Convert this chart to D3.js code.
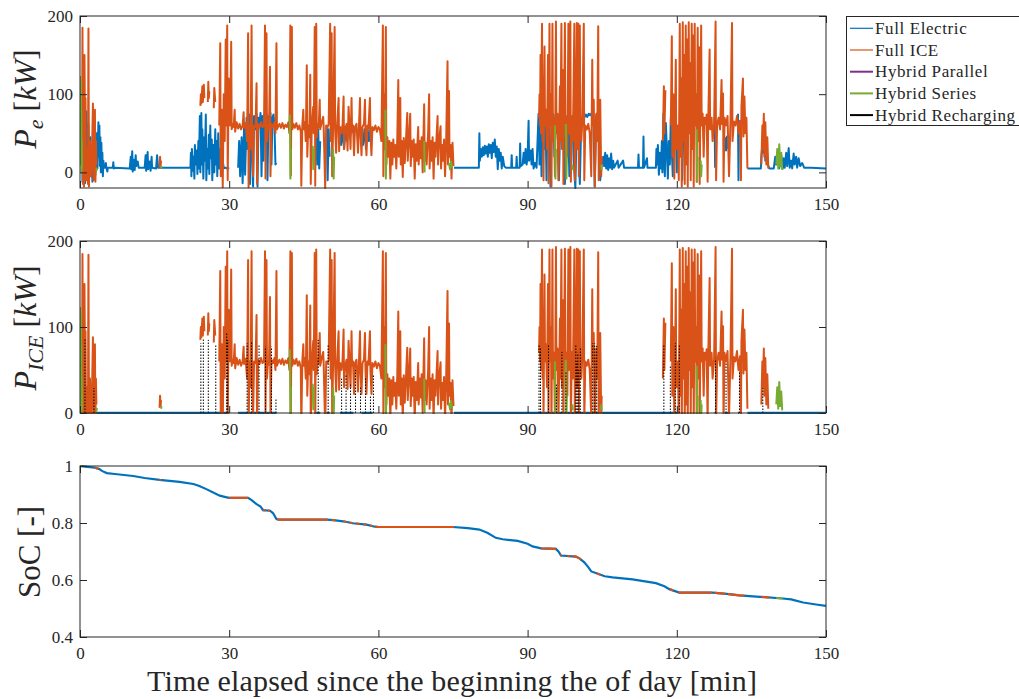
<!DOCTYPE html>
<html>
<head>
<meta charset="utf-8">
<script src="https://cdn.jsdelivr.net/npm/d3@7"></script>
<style>
  body { margin: 0; background: #fff; }
  text { font-family: "Liberation Serif", "Times New Roman", serif; fill: #262626; }
</style>
</head>
<body>
<svg id="chart" width="1019" height="699"></svg>
<script>
// ---- Time axis (minutes) ----
const timeDomain = [0, 150];
const timeTicks = [0, 30, 60, 90, 120, 150];

// ---- Panel axes ----
const peDomain = [-20, 200];
const peTicks = [0, 100, 200];
const iceDomain = [0, 200];
const iceTicks = [0, 100, 200];
const socDomain = [0.4, 1];
const socTicks = [0.4, 0.6, 0.8, 1];

// ---- Legend ----
const modeNames = ["Full Electric", "Full ICE", "Hybrid Parallel", "Hybrid Series", "Hybrid Recharging"];
const modeColors = ["#0072BD", "#D95319", "#7E2F8E", "#77AC30", "#000000"];

// ---- Electric power P_e [kW] while in Full Electric mode: runs of [t, kW] ----
const electricPe = [
  [[0.3,10],[0.4,60],[0.5,-12],[0.6,40],[0.7,75],[0.8,-5],[0.9,30],[1.0,-14],[1.1,55],[1.2,20],[1.3,78],[1.4,-10],[1.5,35],[1.6,5],[1.7,62],[1.8,-8],[1.9,20],[2.1,45],[2.2,-5],[2.3,30],[2.5,-12],[2.6,25],[2.8,10],[3.0,40],[3.1,-3],[3.3,50],[3.5,5],[3.7,64],[3.8,20],[3.9,60],[4.0,8],[4.1,45],[4.2,0],[4.3,38],[4.4,3],[4.5,25],[4.6,-5],[4.7,15],[4.8,6],[5.0,6],[5.2,12],[5.3,6],[5.5,1],[5.6,6],[6.6,6],[6.7,13],[6.8,5],[7.0,6],[10.0,5],[10.2,20],[10.3,4],[10.5,27],[10.6,1],[10.8,16],[11.0,3],[11.2,22],[11.3,8],[11.6,14],[11.8,6],[13.0,6],[13.2,22],[13.3,2],[13.6,26],[13.7,4],[14.0,14],[14.2,2],[14.4,20],[14.5,6],[15.3,5],[15.5,22],[15.7,6],[22.0,6],
   [22.2,6],[22.3,25],[22.4,-5],[22.5,30],[22.7,2],[22.8,20],[23.0,-8],[23.1,35],[23.3,10],[23.5,28],[23.6,-2],[23.8,40],[23.9,5],[24.1,72],[24.2,0],[24.4,76],[24.5,10],[24.6,55],[24.8,-8],[25.0,45],[25.1,15],[25.3,74],[25.4,-10],[25.6,30],[25.7,5],[25.9,48],[26.0,-2],[26.2,60],[26.3,18],[26.5,42],[26.6,-10],[26.8,35],[27.0,0],[27.2,55],[27.3,10],[27.5,40],[27.6,-5],[27.8,50],[28.0,5],[28.2,30],[28.4,-3],[28.6,20],[28.9,5],[29.2,6],[29.5,5],[30.0,6]],
  [[31.8,6],[32.0,40],[32.2,-5],[32.5,45],[32.7,-14],[33.0,60],[33.2,-3],[33.5,70],[33.7,30],[34.0,74],[34.2,-15],[34.4,65],[34.6,40],[34.8,-18],[35.0,72],[35.3,55],[35.5,75],[35.7,-18],[35.9,70],[36.1,60],[36.3,76],[36.5,-5],[36.7,72],[36.9,15],[37.1,76],[37.3,66],[37.5,75],[37.7,-10],[37.9,72],[38.1,60],[38.3,76],[38.5,10],[38.7,70],[38.9,74],[39.1,60],[39.3,10],[39.5,12]],
  [[47.5,50],[47.7,10],[47.9,55],[48.1,5],[48.3,40]],
  [[49.6,60],[49.8,-10],[50.0,55],[50.2,20]],
  [[52.3,55],[52.5,35],[52.8,52],[53.1,30],[53.4,56],[53.7,40],[54.0,55],[54.3,45],[54.6,58],[55.0,50]],
  [[56.6,58],[56.9,35],[57.2,55],[57.5,30],[57.8,58],[58.1,40],[58.4,56],[58.8,50]],
  [[75.2,6],[80.2,6],[80.3,50],[80.4,15],[80.6,30],[80.8,20],[81.0,32],[81.2,22],[81.4,34],[81.6,24],[81.8,33],[82.0,20],[82.2,36],[82.4,25],[82.6,35],[82.8,18],[83.0,38],[83.2,26],[83.4,42],[83.6,20],[83.8,33],[84.0,4],[84.2,30],[84.4,15],[84.6,25],[84.8,5],[85.0,20],[85.3,8],[85.6,6],[86.7,6],[86.8,22],[86.9,6],[87.7,6],[87.8,20],[87.9,6],[88.4,6],[88.5,37],[88.6,8],[89.0,10],[89.2,25],[89.4,12],[89.6,30],[89.8,10],[90.0,20],[90.2,66],[90.3,15],[90.6,28],[90.8,10],[91.0,30],[91.2,5],[91.5,12],[91.8,6],
   [92.0,40],[92.2,75],[92.4,10],[92.6,72],[92.8,-5],[93.0,70],[93.2,76],[93.4,30],[93.6,74],[93.8,-10],[94.0,72],[94.3,65],[94.6,-18],[94.9,70],[95.2,74],[95.4,20],[95.7,72],[96.0,68],[96.3,-10],[96.6,74],[96.9,45],[97.2,72],[97.5,-15],[97.8,70],[98.1,73],[98.4,-5],[98.7,68],[99.0,72],[99.3,10],[99.6,-20],[99.9,66],[100.2,70],[100.5,-15],[100.8,68],[101.1,72],[101.4,70],[101.7,74],[102.0,71],[102.3,75],[102.6,73],[102.9,76],[103.2,74],[103.5,-18],[103.8,72],[104.1,76],[104.4,30],[104.6,-10],[104.8,6]],
  [[104.8,6],[105.2,20],[105.4,8],[105.6,25],[105.8,5],[106.0,22],[106.2,3],[106.4,18],[106.6,6],[106.8,24],[107.0,4],[107.2,15],[107.4,6],[108.1,15],[108.3,6],[109.2,15],[109.4,6],[112.2,6],[112.3,23],[112.4,6],[113.2,6],[113.3,46],[113.4,6],[114.0,18],[114.1,6],[115.8,6],[115.9,30],[116.0,10],[116.2,35],[116.4,-3],[116.6,25],[116.8,5],[117.0,40],[117.1,0],[117.3,75],[117.4,20],[117.6,-5],[117.8,63],[118.0,30],[118.2,-8],[118.4,40],[118.6,10],[118.8,70],[119.0,25],[119.2,-5],[119.4,75],[119.6,30],[119.8,72],[120.0,0],[120.2,60]],
  [[121.0,60],[121.1,-10],[121.3,50]],
  [[127.6,71],[127.7,7],[127.8,60]],
  [[129.7,45],[129.9,28],[130.1,46],[130.3,30]],
  [[132.3,75],[132.4,-10],[132.5,60]],
  [[134.2,5],[136.9,5],[137.0,20],[137.2,35],[137.4,25],[137.6,38],[137.8,15],[138.0,30],[138.3,10],[138.6,5],[139.5,5],[139.8,20],[140.0,10],[140.3,25],[140.6,5],[141.0,22],[141.3,5],[141.5,18],[141.7,6],[142.0,25],[142.2,8],[142.5,31],[142.7,6],[143.0,15],[143.2,5],[143.5,24],[143.7,10],[144.0,20],[144.2,6],[144.5,18],[144.8,8],[145.2,12],[145.6,6],[147.0,6],[150.0,5]]
];

// ---- Engine power in Full ICE mode [kW]: runs of [t, kW] ----
const icePower = [
  [[0.4,20],[0.5,185],[0.6,-15],[0.7,120],[0.8,-18],[0.9,150],[1.0,60],[1.1,95],[1.2,-10],[1.4,30],[1.6,-15],[1.7,184],[1.8,-18],[2.0,40],[2.2,-5],[2.4,20],[2.6,88],[2.7,-10],[2.8,60],[2.9,30],[3.0,80],[3.1,-12],[3.2,40],[3.3,10]],
  [[16.0,6],[16.1,20],[16.2,8],[16.3,15]],
  [[24.2,85],[24.3,100],[24.4,88],[24.6,110],[24.7,90],[24.9,112],[25.0,95]],
  [[25.7,90],[25.8,116],[25.9,95],[26.0,104]],
  [[26.9,82],[27.0,108],[27.2,90]],
  [[28.0,60],[28.2,165],[28.3,-5],[28.5,80],[28.7,-19],[28.9,100],[29.1,40],[29.3,170],[29.4,60],[29.6,188],[29.7,-10],[29.9,120],[30.0,65],
   [30.2,60],[30.4,167],[30.5,55],[30.7,62],[30.9,58],[31.1,80],[31.2,52],[31.5,64],[31.8,56],[32.1,62],[32.4,55],[32.7,60],[32.9,77],[33.0,57],[33.3,63],[33.6,40],[33.8,178],[33.9,-19],[34.1,60],[34.3,30],[34.5,188],[34.6,55],[34.8,-5],[35.0,60],[35.3,58],[35.5,114],[35.6,-15],[35.8,62],[36.1,57],[36.4,64],[36.7,58],[37.0,60],[37.2,188],[37.3,-8],[37.5,178],[37.6,40],[37.8,60],[38.0,56],[38.2,135],[38.3,-5],[38.5,62],[38.8,58],[39.1,64],[39.3,50],[39.5,165],[39.6,55],
   [39.8,58],[40.1,62],[40.4,57],[40.7,63],[41.0,56],[41.3,61],[41.6,58],[41.9,64],[42.1,50],[42.3,188],[42.4,-4],[42.6,186],[42.7,55],[42.9,62],[43.2,57],[43.5,63],[43.8,55],[44.1,60],[44.4,52],[44.5,-17],[44.7,60],[44.9,80],[45.0,55],[45.2,64],[45.4,40],[45.6,137],[45.7,20],[45.9,60],[46.1,45],[46.3,125],[46.4,-15],[46.6,58],[46.9,84],[47.0,50],[47.2,186],[47.3,-17],[47.5,190],[47.6,45],[47.8,62],[48.0,58],[48.2,93],[48.3,55],[48.6,64],[48.9,71],[49.0,57],[49.3,-20],[49.5,60],[49.8,58],[50.0,62],[50.3,190],[50.4,40],[50.6,178],[50.7,-5],[50.9,60],[51.2,186],[51.3,55],[51.5,25],[51.7,60],[52.0,95],[52.1,27],[52.3,58],[52.6,50],[52.8,62],[53.0,97],[53.1,30],[53.3,55],[53.6,62],[53.8,28],[54.0,84],[54.2,58],[54.4,30],[54.6,95],[54.7,55],[54.9,60],[55.1,22],[55.3,58],[55.6,62],[55.9,25],[56.1,60],[56.3,95],[56.4,50],[56.6,22],[56.8,58],[57.1,62],[57.3,93],[57.4,50],[57.6,22],[57.8,60],[58.0,56],[58.3,95],[58.4,50],[58.6,22],[58.8,58],[59.1,54],[59.4,60],[59.7,52],[60.0,58],[60.3,55],[60.6,40],[60.9,188],[61.0,-5],[61.2,100],[61.3,30],[61.5,186],[61.6,10],
   [61.8,45],[62.0,20],[62.2,40],[62.4,-8],[62.6,38],[62.8,10],[63.0,42],[63.2,20],[63.4,35],[63.6,5],[63.8,45],[64.0,118],[64.1,20],[64.4,95],[64.5,10],[64.7,40],[64.9,-6],[65.1,44],[65.3,12],[65.5,35],[65.8,76],[65.9,15],[66.1,38],[66.4,75],[66.5,8],[66.7,40],[66.9,20],[67.1,42],[67.3,-8],[67.5,36],[67.7,15],[68.0,58],[68.1,10],[68.3,40],[68.5,18],[68.7,45],[68.9,0],[69.2,87],[69.3,15],[69.5,38],[69.7,10],[70.0,50],[70.2,100],[70.3,5],[70.5,40],[70.7,15],[70.9,45],[71.1,-8],[71.3,38],[71.5,20],[71.9,72],[72.0,10],[72.2,40],[72.5,59],[72.6,5],[72.8,35],[73.0,15],[73.2,42],[73.4,-5],[73.6,30],[73.9,142],[74.0,10],[74.2,104],[74.3,20],[74.5,35],[74.7,-8],[74.9,38],[75.1,8]],
  [[92.3,70],[92.4,100],[92.5,60],[92.6,150],[92.7,50],[92.9,190],[93.0,40],[93.1,120],[93.2,-10],[93.4,161],[93.5,60],[93.7,80],[93.9,30],[94.1,150],[94.2,-14],[94.4,190],[94.5,60],[94.7,100],[94.8,-18],[95.0,190],[95.1,40],[95.3,70],[95.5,-5],[95.7,193],[95.8,50],[96.0,75],[96.2,-10],[96.5,110],[96.6,40],[96.8,190],[96.9,30],[97.1,131],[97.2,-15],[97.5,191],[97.6,60],[97.8,70],[98.0,20],[98.2,190],[98.3,50],[98.6,193],[98.7,-12],[98.9,71],[99.1,40],[99.4,190],[99.5,-10],[99.7,60],[99.9,191],[100.0,30],[100.2,190],[100.3,-5],[100.5,188],[100.6,60],[100.8,40],[101.0,65],[101.3,190],[101.4,-10],[101.6,60],[101.9,55],[102.2,62],[102.5,50],[102.8,-5],[103.0,144],[103.1,60],[103.3,93],[103.5,-18],[103.8,75],[104.0,40],[104.2,187],[104.3,-10],[104.6,93],[104.8,-5],[104.9,20]],
  [[117.2,40],[117.4,110],[117.5,50],[117.7,105]],
  [[118.8,60],[119.0,174],[119.1,20],[119.3,100],[119.5,-8],[119.8,144],[119.9,30],[120.2,60],[120.4,-10],[120.6,190],[120.7,20],[120.9,120],[121.0,-18],[121.2,192],[121.3,40],[121.5,150],[121.6,-15],[121.8,188],[121.9,10],[122.1,170],[122.2,-18],[122.4,192],[122.5,50],[122.7,140],[122.8,-10],[123.0,190],[123.1,30],[123.3,175],[123.4,-18],[123.6,190],[123.7,60],[123.9,100],[124.0,-12],[124.2,185],[124.3,40],[124.5,160],[124.6,-15],[124.9,188],[125.0,60],[125.2,75],[125.4,20],[125.6,70],[125.8,62],[126.0,74],[126.2,-12],[126.3,58],[126.6,157],[126.7,55],[127.0,70],[127.2,40],[127.5,62],[127.8,193],[127.9,-10],[128.1,60],[128.4,70],[128.7,55],[129.0,118],[129.1,62],[129.3,101],[129.4,-12],[129.6,70],[129.9,60],[130.2,72],[130.5,-5],[130.8,68],[131.1,191],[131.2,40],[131.5,65],[131.8,60],[132.1,72],[132.4,50],[132.7,66],[132.9,-10],[133.0,84],[133.3,120],[133.4,46],[133.6,97],[133.8,50],[134.0,70],[134.2,5]],
  [[137.0,10],[137.2,60],[137.3,30],[137.5,75],[137.6,20],[137.8,64],[138.0,10],[138.2,45],[138.4,5]]
];

// ---- Hybrid Series mode power [kW]: runs of [t, kW] ----
const seriesPower = [
  [[0.0,20],[0.05,122],[0.1,60],[0.15,115],[0.2,10],[0.25,80],[0.3,0],[0.35,40],[0.4,5]],
  [[3.3,2],[3.4,6]],
  [[16.3,5],[16.4,8]],
  [[42.2,74],[42.3,-8],[42.4,30]],
  [[46.8,34],[46.9,4],[47.0,30]],
  [[50.9,30],[51.0,-8],[51.1,20]],
  [[61.4,80],[61.5,-8],[61.6,20]],
  [[69.2,40],[69.3,0]],
  [[74.2,12],[74.4,4],[74.6,14],[74.8,6]],
  [[95.5,60],[95.6,-8],[95.7,30]],
  [[97.7,62],[97.8,-8],[97.9,20]],
  [[99.0,10],[99.1,3]],
  [[104.8,10],[104.9,3]],
  [[124.0,55],[124.1,-12],[124.2,20]],
  [[124.8,15],[124.9,-5],[125.0,10]],
  [[140.0,10],[140.2,30],[140.4,5],[140.6,36],[140.8,8],[141.0,25],[141.2,3]]
];

// ---- Hybrid Recharging: engine power peaks [t, kW] ----
const rechargeIce = [
  [1.0,87],[2.8,29],[24.3,81],[24.8,87],[25.8,85],[27.3,79],[29.5,93],[29.7,85],[33.6,81],[34.5,83],[36.0,79],[37.3,77],[38.5,77],[39.4,17],[47.9,85],[49.9,79],
  [52.6,40],[53.5,45],[54.4,35],[55.4,50],[56.4,30],[57.4,42],[58.4,20],[59.0,45],
  [92.3,79],[92.6,75],[94.2,79],[95.8,33],[96.9,71],[97.7,48],[99.7,79],[99.9,60],[100.1,70],[100.3,50],[100.6,75],[103.1,81],[103.5,81],[103.9,78],
  [117.4,79],[118.7,56],[119.7,81],[120.5,79],[127.8,63],[129.9,59],[132.6,48],[137.3,29]
];

// ---- Battery state of charge [t, SoC] ----
const socCurve = [
  [0,1.0],[1,0.998],[2,0.996],[3,0.994],[3.8,0.99],[4.5,0.982],[5.4,0.975],[7,0.972],[10.7,0.965],[13,0.958],[16,0.951],[20,0.944],[22.8,0.937],[24,0.93],[25.5,0.918],[27,0.905],[28.1,0.896],[29.5,0.89],[30,0.888],[33.8,0.888],[34.5,0.88],[35.5,0.866],[36.3,0.858],[36.8,0.845],[38.2,0.843],[38.8,0.835],[39.5,0.814],[40,0.812],[49.6,0.812],[51,0.81],[52.9,0.806],[54.9,0.799],[57.6,0.794],[59.3,0.787],[60,0.786],[75,0.786],[78,0.782],[80.3,0.777],[82,0.765],[83.6,0.748],[85,0.743],[88,0.737],[90,0.727],[91,0.718],[92.7,0.711],[95.7,0.709],[96.2,0.7],[96.7,0.686],[99.7,0.682],[100.5,0.675],[101.4,0.662],[102.2,0.645],[102.8,0.63],[104.4,0.62],[105.5,0.613],[107.1,0.609],[111.1,0.602],[115.8,0.589],[117.5,0.578],[118.5,0.568],[120.5,0.556],[127.2,0.556],[130,0.551],[132.6,0.546],[136,0.542],[141.3,0.535],[143,0.532],[145.4,0.521],[148,0.514],[150,0.509]
];
// time spans spent in Full ICE and Hybrid Series mode [t0, t1]
const socIceSpans = [[3.0,3.7],[15.9,16.3],[30,33.8],[36.8,37.3],[37.8,38.2],[39.6,49.8],[50.6,51.4],[53,53.6],[54.2,54.8],[55.5,56.2],[57,57.6],[58.3,58.8],[59.4,75.2],[92.7,95.7],[96.6,96.9],[98,98.6],[99.1,100.7],[103.9,104.7],[118.6,119.3],[120.3,127],[127.6,129.8],[130.3,133.6],[137,138.6]];
const socSeriesSpans = [[0,0.4],[140,141.3]];

// ---------------------------------------------------------------
const svg = d3.select("#chart");
const x = d3.scaleLinear().domain(timeDomain).range([80, 826]);

const panels = [
  { id: "pe", top: 16, bottom: 188, domain: peDomain, ticks: peTicks, fmt: d => String(d) },
  { id: "ice", top: 241, bottom: 413, domain: iceDomain, ticks: iceTicks, fmt: d => String(d) },
  { id: "soc", top: 466, bottom: 637, domain: socDomain, ticks: socTicks, fmt: d => String(d) }
];
panels.forEach(p => { p.y = d3.scaleLinear().domain(p.domain).range([p.bottom, p.top]); });

const defs = svg.append("defs");
panels.forEach(p => {
  defs.append("clipPath").attr("id", "clip-" + p.id)
    .append("rect").attr("x", 80).attr("y", p.top - 1).attr("width", 746).attr("height", p.bottom - p.top + 2);
});

function runsPath(runs, y) {
  const line = d3.line().x(d => x(d[0])).y(d => y(d[1]));
  return runs.map(r => line(r)).join("");
}

function drawRuns(g, runs, y, color, width) {
  g.append("path").attr("d", runsPath(runs, y))
    .attr("fill", "none").attr("stroke", color).attr("stroke-width", width)
    .attr("stroke-linejoin", "round");
}

// ---- Panel 1: electric power ----
{
  const p = panels[0];
  const g = svg.append("g").attr("clip-path", "url(#clip-pe)");
  drawRuns(g, electricPe, p.y, modeColors[0], 2);
  drawRuns(g, icePower, p.y, modeColors[1], 2);
  drawRuns(g, seriesPower, p.y, modeColors[3], 2);
}

// ---- Panel 2: engine power ----
{
  const p = panels[1];
  const g = svg.append("g").attr("clip-path", "url(#clip-ice)");
  const zeroRuns = electricPe.map(r => [[r[0][0], 0], [r[r.length - 1][0], 0]]);
  drawRuns(g, zeroRuns, p.y, modeColors[0], 2.4);
  drawRuns(g, icePower, p.y, modeColors[1], 2);
  drawRuns(g, seriesPower, p.y, modeColors[3], 2);
  g.append("path")
    .attr("d", rechargeIce.map(d => `M${x(d[0])},${p.y(0)}V${p.y(d[1])}`).join(""))
    .attr("fill", "none").attr("stroke", modeColors[4]).attr("stroke-width", 1)
    .attr("stroke-dasharray", "1.5,1.5");
}

// ---- Panel 3: state of charge, coloured by mode ----
{
  const p = panels[2];
  const g = svg.append("g").attr("clip-path", "url(#clip-soc)");
  const socLine = d3.line().x(d => x(d[0])).y(d => p.y(d[1]));
  g.append("path").attr("d", socLine(socCurve)).attr("fill", "none")
    .attr("stroke", modeColors[0]).attr("stroke-width", 2.2);
  [["soc-ice", socIceSpans, modeColors[1]], ["soc-ser", socSeriesSpans, modeColors[3]]].forEach(([id, spans, col]) => {
    const cp = defs.append("clipPath").attr("id", id);
    spans.forEach(s => cp.append("rect").attr("x", x(s[0])).attr("y", p.top - 2)
      .attr("width", x(s[1]) - x(s[0])).attr("height", p.bottom - p.top + 4));
    g.append("path").attr("d", socLine(socCurve)).attr("fill", "none")
      .attr("stroke", col).attr("stroke-width", 2.2).attr("clip-path", `url(#${id})`);
  });
}

// ---- Axes and boxes ----
panels.forEach(p => {
  const bottom = svg.append("g").attr("transform", `translate(0,${p.bottom})`)
    .call(d3.axisBottom(x).tickValues(timeTicks).tickSize(-7).tickPadding(10).tickFormat(d => String(d)));
  const top = svg.append("g").attr("transform", `translate(0,${p.top})`)
    .call(d3.axisTop(x).tickValues(timeTicks).tickSize(-7).tickFormat(""));
  const left = svg.append("g").attr("transform", `translate(80,0)`)
    .call(d3.axisLeft(p.y).tickValues(p.ticks).tickSize(-7).tickPadding(7).tickFormat(p.fmt));
  const right = svg.append("g").attr("transform", `translate(826,0)`)
    .call(d3.axisRight(p.y).tickValues(p.ticks).tickSize(-7).tickFormat(""));
  [bottom, top, left, right].forEach(a => {
    a.select(".domain").remove();
    a.selectAll("line").attr("stroke", "#262626").attr("stroke-width", 1);
    a.selectAll("text").attr("font-size", 17).attr("font-family", '"Liberation Serif", serif').attr("fill", "#262626");
  });
  svg.append("rect").attr("x", 80).attr("y", p.top).attr("width", 746).attr("height", p.bottom - p.top)
    .attr("fill", "none").attr("stroke", "#262626").attr("stroke-width", 1);
});

// ---- Axis titles ----
function yTitle(cx, cy, size, parts) {
  const t = svg.append("text").attr("transform", `translate(${cx},${cy}) rotate(-90)`)
    .attr("text-anchor", "middle").attr("font-size", size);
  parts.forEach(pt => {
    const s = t.append("tspan").text(pt.text);
    if (pt.italic) s.attr("font-style", "italic");
    if (pt.size) s.attr("font-size", pt.size);
    if (pt.dy) s.attr("dy", pt.dy);
  });
}
yTitle(36, 99, 32, [
  { text: "P", italic: true }, { text: "e", italic: true, size: 22, dy: 7 },
  { text: " [", dy: -7 }, { text: "kW", italic: true }, { text: "]" }
]);
yTitle(36, 328, 32, [
  { text: "P", italic: true }, { text: "ICE", italic: true, size: 22, dy: 7 },
  { text: " [", dy: -7 }, { text: "kW", italic: true }, { text: "]" }
]);
yTitle(40, 552, 31, [{ text: "SoC [-]" }]);

svg.append("text").attr("x", 452).attr("y", 691).attr("text-anchor", "middle")
  .attr("font-size", 30).attr("textLength", 610).attr("lengthAdjust", "spacing")
  .text("Time elapsed since the beginning the of day [min]");

// ---- Legend ----
const lg = svg.append("g");
lg.append("rect").attr("x", 846.5).attr("y", 16.5).attr("width", 180).attr("height", 109)
  .attr("fill", "#fff").attr("stroke", "#262626").attr("stroke-width", 1);
modeNames.forEach((name, i) => {
  const yy = 28.3 + i * 21.7;
  lg.append("line").attr("x1", 850).attr("x2", 873).attr("y1", yy).attr("y2", yy)
    .attr("stroke", modeColors[i]).attr("stroke-width", i < 2 ? 1.2 : 2);
  lg.append("text").attr("x", 875).attr("y", yy).attr("dy", "0.33em")
    .attr("font-size", 17).attr("letter-spacing", 0.6).text(name);
});
</script>
</body>
</html>
